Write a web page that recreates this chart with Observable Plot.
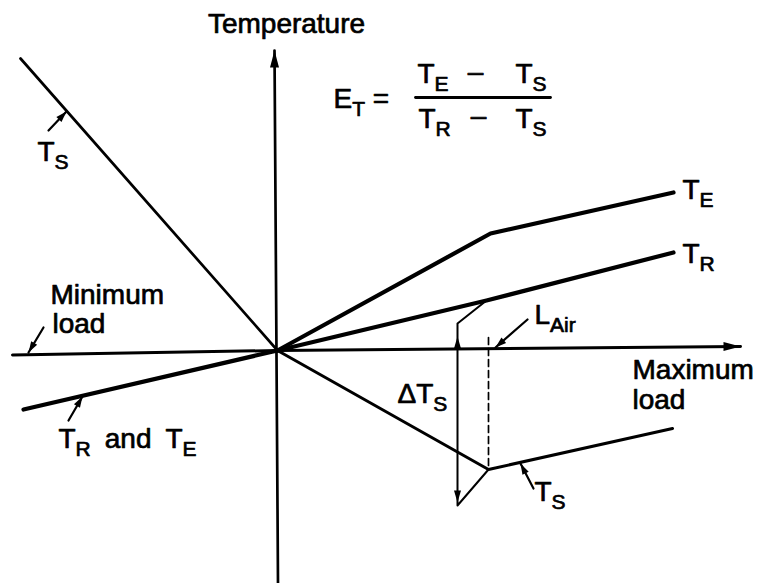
<!DOCTYPE html>
<html>
<head>
<meta charset="utf-8">
<script src="https://cdn.jsdelivr.net/npm/d3@7"></script>
<script src="https://cdn.jsdelivr.net/npm/@observablehq/plot@0.6"></script>
<style>
  html, body { margin: 0; padding: 0; background: #fff; }
  svg { display: block; }
</style>
</head>
<body>
<div id="chart"></div>
<script>
// ---- Schematic data (load on x, temperature on y; origin = minimum load point) ----
const loadAxis      = [[-26.5, -0.45], [0, 0], [46.3, 0.4]];
const tempAxis      = [[0.05, -23.3], [-0.3, 30.0]];
const supplyLeft    = [[-25.7, 29.2], [0, 0]];               // T_S at left
const supplyRight   = [[0, 0], [21.1, -11.9], [39.5, -7.8]];  // T_S at right
const exhaustRight  = [[0, 0], [21.3, 11.7], [39.6, 15.8]];   // T_E
const returnRight   = [[0, 0], [20.9, 5.0], [39.6, 9.8]];     // T_R
const returnExhLeft = [[-25.4, -5.9], [0, 0]];                // T_R and T_E
const deltaTsLeader = [[20.9, 5.0], [18.0, 2.7], [18.0, -15.5], [21.1, -11.9]];
const lAirDashed    = [[21.1, 1.3], [21.1, -11.9]];
const fractionBar   = [[13.8, 25.3], [27.3, 25.3]];

// label leaders: [tail, head]
const leaders = [
  [[-22.9, 22.0], [-21.1, 23.9]],   // T_S (top-left)
  [[-23.4, 2.3], [-24.9, -0.2]],    // Minimum load
  [[-20.9, -7.0], [-19.5, -4.6]],   // T_R and T_E
  [[25.0, 3.1], [21.8, 0.3]],       // L_Air
  [[25.6, -13.8], [24.3, -11.3]]    // T_S (bottom)
];
// double arrow of ΔT_S : tip positions and direction (deg, clockwise from up)
const deltaTips = [[18.0, 1.4, 0], [18.0, -15.2, 180]];
// axis arrow tips
const axisTips = [[-0.3, 30.0, 0], [46.3, 0.4, 90]];

// text labels: [x, y(baseline), text, anchor]
const labels = [
  [0.9, 31.8, "Temperature", "middle"],
  [5.6, 24.3, "E_{T} =", "start"],
  [14.0, 26.8, "T_{E}", "start"],
  [19.8, 27.0, "\u2013", "middle"],
  [23.8, 26.8, "T_{S}", "start"],
  [14.1, 22.3, "T_{R}", "start"],
  [20.1, 22.6, "\u2013", "middle"],
  [23.8, 22.3, "T_{S}", "start"],
  [-24.0, 19.0, "T_{S}", "start"],
  [-22.7, 4.7, "Minimum", "start"],
  [-22.5, 1.8, "load", "start"],
  [-21.9, -9.7, "T_{R}\u2002and\u2002T_{E}", "start"],
  [40.5, 15.2, "T_{E}", "start"],
  [40.5, 8.8, "T_{R}", "start"],
  [35.5, -2.8, "Maximum", "start"],
  [35.5, -5.8, "load", "start"],
  [12.0, -5.2, "\u0394T_{S}", "start"],
  [25.7, -15.0, "T_{S}", "start"],
  [25.7, 2.7, "L_{Air}", "start"]
];

// ---- helpers ----
function headSymbol(len, hw) {
  return { draw(ctx) { ctx.moveTo(0, 0); ctx.lineTo(hw, len); ctx.lineTo(-hw, len); ctx.closePath(); } };
}
const leaderHeads = leaders.map(([t, h]) => ({
  x: h[0], y: h[1],
  angle: Math.atan2(h[0] - t[0], h[1] - t[1]) * 180 / Math.PI
}));
const FONT = "Liberation Sans, Arial, Helvetica, sans-serif";
const lineOpts = (w) => ({x: d => d[0], y: d => d[1], stroke: "black", strokeWidth: w, strokeLinecap: "round", strokeLinejoin: "round"});
const textOpts = (anchor) => ({x: d => d[0], y: d => d[1], text: d => d[2], textAnchor: anchor, lineAnchor: "bottom", fontSize: 28, fill: "black", stroke: "black", strokeWidth: 0.7});

const chart = Plot.plot({
  width: 764,
  height: 583,
  margin: 0,
  style: {fontFamily: FONT, background: "white"},
  x: {domain: [-27.7, 48.7], axis: null},
  y: {domain: [-23.3, 35], axis: null},
  marks: [
    Plot.line(loadAxis, lineOpts(3)),
    Plot.line(tempAxis, lineOpts(2.7)),
    Plot.line(supplyLeft, lineOpts(2.7)),
    Plot.line(supplyRight, lineOpts(3)),
    Plot.line(exhaustRight, lineOpts(4.2)),
    Plot.line(returnRight, lineOpts(4.2)),
    Plot.line(returnExhLeft, lineOpts(4.2)),
    Plot.line(deltaTsLeader, {...lineOpts(2), strokeLinecap: "butt"}),
    Plot.line(lAirDashed, {x: d => d[0], y: d => d[1], stroke: "black", strokeWidth: 1.7, strokeDasharray: "7,4"}),
    Plot.line(fractionBar, lineOpts(2.8)),
    ...leaders.map(l => Plot.line(l, lineOpts(2.2))),
    Plot.dot(leaderHeads, {x: "x", y: "y", rotate: "angle", symbol: headSymbol(11, 3.5), fill: "black", stroke: "none"}),
    Plot.dot(deltaTips, {x: d => d[0], y: d => d[1], rotate: d => d[2], symbol: headSymbol(12, 3.5), fill: "black", stroke: "none"}),
    Plot.dot(axisTips, {x: d => d[0], y: d => d[1], rotate: d => d[2], symbol: headSymbol(17, 4.5), fill: "black", stroke: "none"}),
    Plot.text(labels.filter(d => d[3] === "start"), textOpts("start")),
    Plot.text(labels.filter(d => d[3] === "middle"), textOpts("middle"))
  ]
});

// turn "X_{sub}" into real subscript tspans
const SUB_DY = 8, SUB_SIZE = 21;
chart.querySelectorAll("text").forEach(t => {
  const s = t.textContent;
  if (!s.includes("_{")) return;
  t.textContent = "";
  const ns = "http://www.w3.org/2000/svg";
  const re = /_\{([^}]*)\}/g;
  let last = 0, m, shifted = false;
  const add = (str, sub) => {
    const ts = document.createElementNS(ns, "tspan");
    ts.textContent = str;
    if (sub) { ts.setAttribute("dy", SUB_DY); ts.setAttribute("font-size", SUB_SIZE); shifted = true; }
    else if (shifted) { ts.setAttribute("dy", -SUB_DY); shifted = false; }
    t.appendChild(ts);
  };
  while ((m = re.exec(s))) {
    if (m.index > last) add(s.slice(last, m.index), false);
    add(m[1], true);
    last = re.lastIndex;
  }
  if (last < s.length) add(s.slice(last), false);
});

document.getElementById("chart").appendChild(chart);
</script>
</body>
</html>
